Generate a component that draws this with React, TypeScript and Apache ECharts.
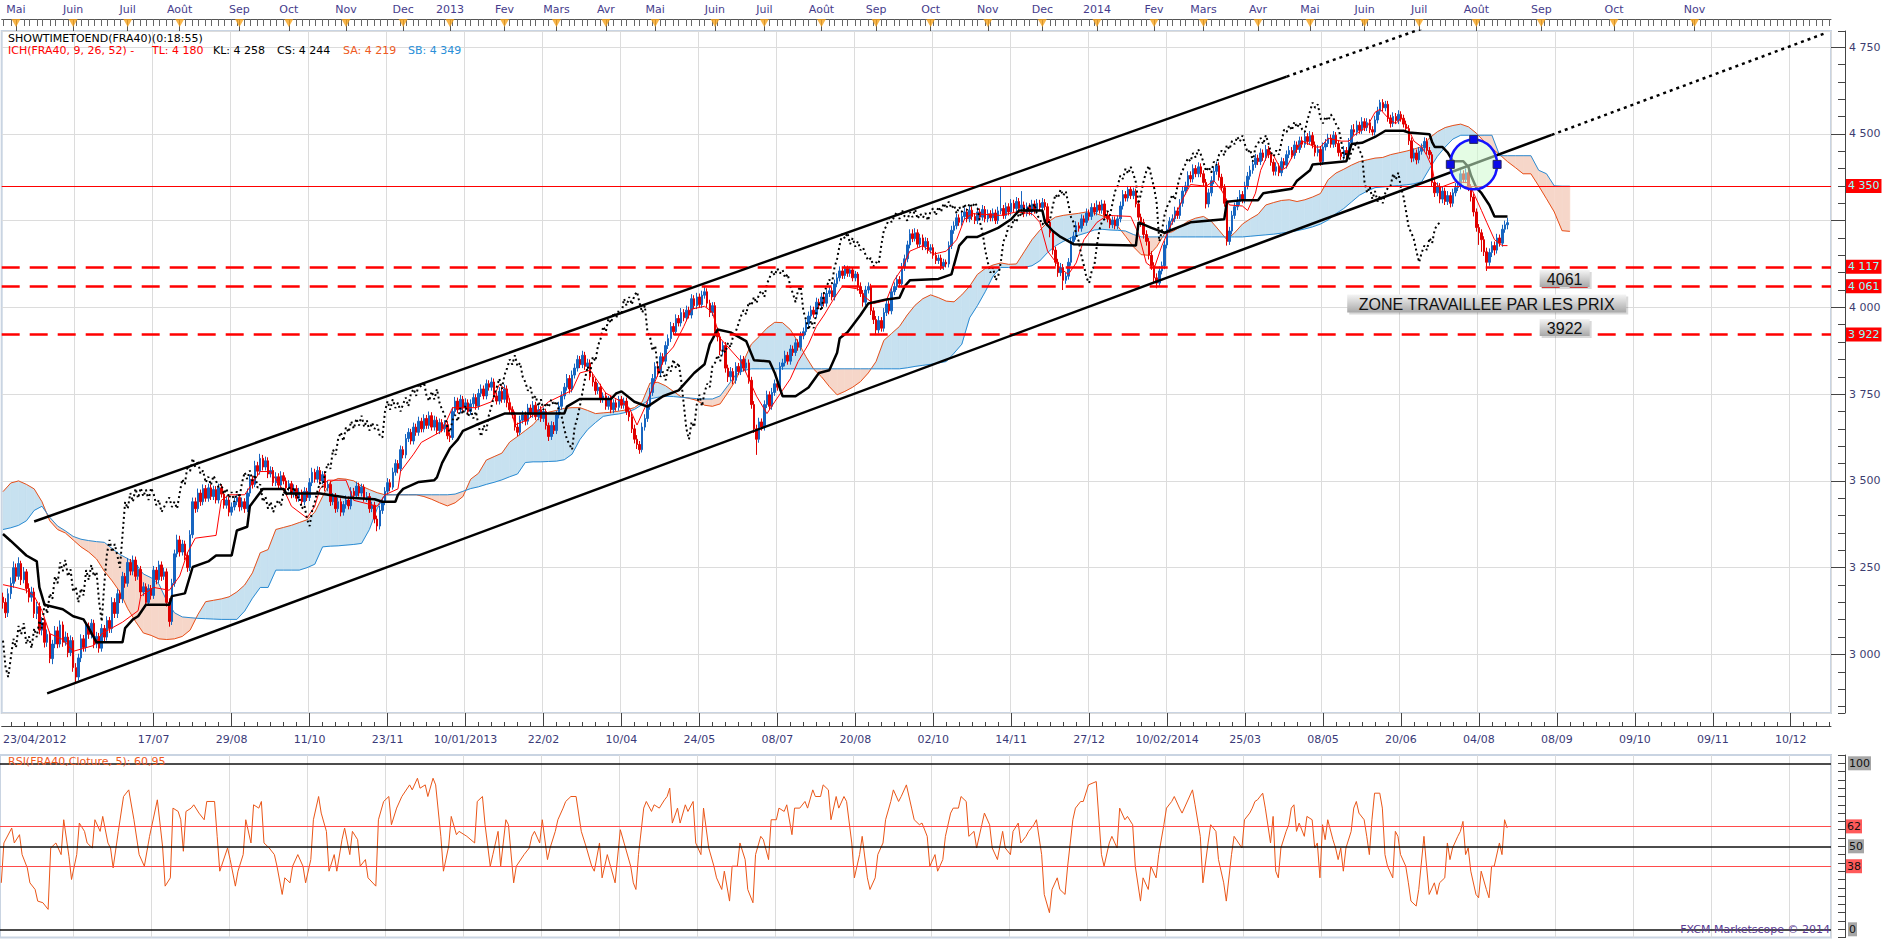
import React, { useEffect, useRef } from "react";
import * as echarts from "echarts";

// ---------------- DATA ----------------
const BAR_COUNT = 704; // trading-day slots on the time axis (history + future cloud)
const PRICE_MIN = 2831.3;
const PRICE_MAX = 4796.3;

// daily closes FRA40, one per trading day (bar 0 = 25/04/2012)
const closes = [
  3150,3120,3175,3205,3250,3225,3262,3215,3238,3190,
  3165,3180,3118,3138,3070,3092,3035,3058,2988,3030,
  3068,3030,3085,3035,3050,3005,3040,2962,2935,2990,
  3045,3020,3082,3058,3090,3030,3052,3018,3075,3050,
  3098,3075,3150,3118,3175,3160,3225,3205,3265,3240,
  3272,3225,3245,3180,3195,3150,3190,3170,3243,3215,
  3258,3225,3238,3150,3095,3205,3290,3330,3295,3318,
  3285,3250,3345,3440,3420,3465,3440,3478,3450,3480,
  3455,3475,3445,3480,3462,3430,3445,3410,3425,3440,
  3452,3425,3440,3420,3465,3505,3490,3544,3528,3565,
  3540,3558,3520,3530,3495,3512,3488,3515,3500,3480,
  3492,3462,3478,3450,3468,3440,3470,3452,3495,3525,
  3505,3530,3500,3518,3480,3490,3440,3455,3420,3440,
  3410,3432,3445,3428,3470,3458,3485,3465,3482,3450,
  3455,3420,3430,3390,3370,3415,3440,3470,3495,3482,
  3525,3550,3535,3590,3575,3622,3640,3615,3655,3640,
  3672,3650,3680,3660,3688,3655,3675,3645,3668,3650,
  3662,3630,3625,3700,3730,3705,3735,3710,3725,3700,
  3722,3740,3715,3752,3765,3745,3780,3770,3785,3745,
  3730,3758,3735,3765,3725,3705,3690,3655,3640,3675,
  3690,3672,3710,3692,3718,3685,3705,3680,3700,3660,
  3628,3660,3645,3690,3715,3745,3770,3795,3765,3805,
  3825,3850,3835,3862,3830,3840,3800,3785,3760,3770,
  3735,3745,3715,3735,3705,3725,3712,3735,3718,3730,
  3700,3685,3650,3620,3605,3590,3655,3680,3715,3755,
  3795,3830,3812,3858,3845,3890,3910,3945,3930,3968,
  3955,3985,3970,3992,3978,4025,4005,4030,4008,4035,
  4045,4012,3985,4005,3930,3915,3875,3890,3825,3800,
  3815,3790,3830,3815,3850,3825,3840,3790,3720,3650,
  3620,3670,3655,3720,3748,3715,3755,3780,3770,3830,
  3840,3862,3845,3880,3870,3898,3885,3918,3930,3952,
  3975,3992,3980,4015,4005,4030,4012,4040,4048,4030,
  4068,4085,4105,4092,4112,4098,4108,4085,4096,4060,
  4040,4015,4050,4060,3990,3965,3935,3962,3940,3985,
  4010,3990,4045,4060,4080,4068,4115,4140,4180,4212,
  4198,4215,4182,4200,4175,4190,4165,4172,4150,4135,
  4142,4118,4130,4125,4178,4222,4235,4258,4245,4262,
  4275,4255,4280,4262,4250,4275,4260,4282,4255,4270,
  4258,4272,4250,4278,4285,4265,4290,4275,4300,4285,
  4305,4285,4295,4270,4290,4275,4298,4280,4300,4288,
  4302,4290,4245,4215,4165,4130,4100,4115,4078,4090,
  4130,4190,4205,4235,4228,4255,4245,4272,4262,4288,
  4275,4295,4280,4298,4265,4255,4238,4252,4235,4255,
  4292,4325,4315,4340,4322,4335,4298,4260,4245,4210,
  4190,4150,4120,4085,4070,4105,4120,4180,4225,4248,
  4255,4278,4265,4300,4335,4350,4380,4370,4400,4385,
  4405,4385,4360,4298,4330,4365,4392,4408,4375,4345,
  4300,4190,4220,4265,4290,4305,4325,4310,4350,4378,
  4395,4412,4430,4420,4445,4432,4455,4440,4418,4392,
  4405,4388,4420,4410,4440,4452,4438,4468,4455,4480,
  4470,4492,4478,4495,4468,4446,4455,4420,4462,4472,
  4488,4470,4496,4472,4446,4435,4452,4440,4475,4512,
  4505,4525,4510,4535,4518,4532,4512,4505,4540,4565,
  4590,4575,4585,4546,4530,4550,4538,4556,4545,4528,
  4515,4480,4430,4445,4425,4450,4460,4478,4452,4440,
  4360,4330,4348,4312,4335,4305,4322,4300,4330,4345,
  4350,4385,4368,4388,4345,4318,4275,4230,4215,4195,
  4160,4130,4158,4178,4165,4200,4185,4225,4238,4244,
];
// daily highs and lows (wick ends), same bars
const highs = [
  3178,3162,3190,3222,3268,3262,3280,3270,3252,3246,
  3205,3195,3192,3152,3150,3108,3102,3072,3066,3042,
  3082,3080,3098,3095,3066,3062,3055,3050,2975,3002,
  3058,3056,3095,3092,3102,3100,3065,3062,3088,3085,
  3110,3108,3165,3162,3188,3185,3238,3235,3278,3275,
  3285,3282,3258,3255,3208,3205,3202,3200,3255,3252,
  3270,3268,3250,3248,3162,3218,3302,3345,3342,3330,
  3328,3295,3358,3452,3452,3478,3475,3490,3488,3492,
  3490,3486,3485,3492,3490,3472,3458,3455,3438,3452,
  3462,3460,3452,3450,3478,3518,3515,3558,3555,3578,
  3575,3570,3568,3542,3540,3525,3522,3528,3525,3510,
  3502,3500,3490,3488,3480,3475,3482,3480,3508,3538,
  3535,3542,3540,3528,3528,3500,3500,3465,3465,3452,
  3450,3442,3458,3455,3482,3480,3498,3495,3492,3490,
  3468,3465,3440,3440,3400,3428,3452,3482,3508,3505,
  3538,3562,3560,3602,3600,3635,3652,3650,3668,3665,
  3685,3682,3692,3690,3700,3698,3688,3685,3680,3678,
  3675,3672,3640,3712,3742,3740,3748,3745,3738,3735,
  3735,3752,3750,3765,3778,3775,3792,3790,3798,3795,
  3755,3770,3768,3778,3775,3738,3715,3700,3668,3688,
  3702,3700,3722,3720,3730,3728,3718,3715,3712,3708,
  3668,3672,3670,3702,3728,3758,3782,3808,3805,3818,
  3838,3862,3860,3875,3872,3852,3850,3812,3795,3782,
  3780,3755,3755,3745,3745,3735,3735,3745,3745,3740,
  3740,3712,3695,3662,3632,3615,3668,3692,3728,3768,
  3808,3842,3840,3870,3868,3902,3922,3958,3955,3980,
  3978,3998,3995,4005,4002,4038,4035,4042,4040,4048,
  4062,4055,4022,4015,4015,3942,3925,3902,3900,3835,
  3828,3825,3842,3840,3862,3860,3852,3850,3800,3730,
  3662,3682,3680,3732,3760,3758,3768,3792,3790,3842,
  3852,3875,3872,3892,3890,3910,3908,3930,3942,3965,
  3988,4005,4002,4028,4025,4042,4040,4052,4060,4058,
  4080,4098,4118,4115,4122,4120,4118,4115,4105,4102,
  4072,4050,4062,4072,4068,4000,3975,3975,3972,3998,
  4022,4020,4058,4072,4092,4090,4128,4152,4192,4225,
  4225,4228,4225,4212,4210,4202,4200,4182,4182,4160,
  4152,4152,4140,4138,4190,4235,4248,4270,4268,4275,
  4288,4285,4292,4290,4272,4288,4285,4295,4292,4282,
  4280,4285,4282,4290,4348,4295,4302,4300,4312,4310,
  4318,4315,4335,4305,4302,4300,4310,4308,4312,4310,
  4315,4312,4300,4255,4225,4175,4140,4128,4125,4100,
  4142,4202,4218,4248,4245,4268,4265,4285,4282,4300,
  4300,4308,4305,4310,4308,4275,4265,4262,4262,4265,
  4305,4338,4335,4350,4348,4345,4342,4308,4270,4255,
  4222,4200,4162,4130,4098,4118,4132,4192,4238,4260,
  4268,4290,4288,4312,4348,4362,4392,4392,4412,4410,
  4418,4415,4395,4370,4342,4378,4405,4420,4418,4385,
  4355,4310,4232,4278,4302,4318,4338,4335,4362,4390,
  4408,4425,4442,4440,4458,4455,4468,4465,4450,4428,
  4418,4415,4432,4430,4452,4465,4462,4480,4478,4492,
  4492,4505,4502,4508,4505,4478,4468,4465,4475,4485,
  4500,4498,4508,4505,4482,4455,4465,4462,4488,4525,
  4528,4538,4535,4548,4545,4545,4542,4522,4552,4578,
  4598,4600,4595,4595,4555,4562,4560,4568,4565,4555,
  4538,4525,4490,4458,4455,4462,4472,4490,4488,4462,
  4448,4372,4360,4358,4348,4345,4335,4332,4342,4358,
  4362,4398,4395,4400,4398,4355,4328,4285,4240,4225,
  4205,4172,4170,4190,4190,4212,4210,4238,4250,4258,
];
const lows = [
  3132,3105,3108,3160,3192,3210,3215,3200,3205,3176,
  3150,3152,3105,3102,3058,3055,3020,3022,2975,2972,
  3018,3018,3020,3022,3025,2992,2995,2950,2918,2925,
  2978,3008,3008,3045,3046,3018,3018,3005,3008,3038,
  3040,3062,3062,3105,3105,3148,3148,3192,3195,3228,
  3228,3212,3215,3168,3168,3138,3140,3158,3160,3202,
  3205,3212,3215,3138,3080,3085,3195,3280,3282,3285,
  3272,3238,3240,3335,3408,3410,3428,3430,3440,3440,
  3445,3445,3435,3435,3452,3420,3420,3398,3400,3415,
  3430,3412,3415,3408,3410,3455,3478,3482,3515,3518,
  3530,3530,3508,3510,3485,3485,3478,3478,3490,3468,
  3470,3450,3452,3440,3440,3430,3430,3442,3442,3485,
  3495,3495,3490,3490,3470,3470,3428,3430,3408,3410,
  3398,3400,3420,3418,3418,3448,3448,3455,3455,3440,
  3440,3408,3410,3378,3355,3360,3405,3430,3460,3470,
  3475,3515,3522,3525,3565,3565,3612,3605,3605,3630,
  3630,3640,3640,3650,3650,3645,3645,3635,3635,3640,
  3640,3620,3612,3618,3690,3695,3695,3700,3700,3690,
  3690,3712,3705,3705,3742,3735,3735,3760,3760,3735,
  3720,3720,3725,3725,3712,3695,3680,3645,3628,3632,
  3665,3660,3662,3682,3682,3675,3675,3670,3670,3648,
  3615,3618,3635,3635,3680,3705,3735,3760,3752,3755,
  3795,3815,3825,3825,3820,3820,3790,3772,3748,3750,
  3725,3725,3705,3705,3695,3695,3702,3702,3708,3708,
  3690,3672,3638,3608,3592,3578,3582,3645,3670,3705,
  3745,3785,3800,3802,3835,3835,3880,3900,3920,3920,
  3945,3945,3960,3960,3968,3968,3995,3995,3998,3998,
  4025,4000,3972,3975,3918,3902,3862,3862,3812,3785,
  3788,3778,3780,3805,3805,3815,3815,3780,3708,3638,
  3575,3610,3645,3645,3710,3705,3705,3745,3760,3760,
  3820,3830,3835,3835,3860,3860,3875,3875,3908,3920,
  3940,3965,3970,3970,3995,3995,4002,4002,4030,4020,
  4020,4058,4075,4082,4082,4088,4088,4075,4075,4048,
  4030,4002,4005,4040,3978,3952,3920,3925,3930,3930,
  3975,3980,3980,4035,4050,4058,4058,4105,4130,4170,
  4188,4190,4172,4172,4165,4165,4155,4155,4140,4125,
  4125,4108,4108,4115,4115,4168,4212,4225,4235,4235,
  4252,4245,4245,4252,4240,4240,4250,4250,4245,4245,
  4248,4248,4240,4240,4268,4255,4255,4265,4265,4275,
  4275,4275,4275,4260,4262,4265,4265,4270,4270,4278,
  4278,4280,4235,4202,4152,4118,4088,4090,4050,4068,
  4080,4120,4180,4195,4218,4218,4235,4235,4250,4252,
  4265,4265,4270,4270,4255,4245,4228,4228,4225,4225,
  4245,4282,4305,4305,4312,4312,4288,4250,4232,4198,
  4178,4138,4108,4072,4055,4060,4095,4110,4170,4215,
  4238,4245,4255,4255,4290,4325,4340,4360,4360,4375,
  4375,4375,4350,4285,4288,4320,4355,4382,4365,4335,
  4290,4178,4180,4210,4255,4280,4295,4300,4300,4340,
  4368,4385,4402,4410,4410,4422,4422,4430,4408,4380,
  4380,4378,4378,4400,4400,4430,4428,4428,4445,4445,
  4460,4460,4468,4468,4458,4435,4435,4408,4410,4452,
  4462,4460,4460,4462,4435,4425,4425,4430,4430,4465,
  4495,4495,4500,4500,4508,4508,4502,4495,4495,4530,
  4555,4565,4565,4535,4518,4520,4528,4528,4535,4518,
  4505,4468,4418,4420,4412,4415,4440,4450,4440,4428,
  4348,4318,4320,4300,4300,4295,4295,4288,4290,4320,
  4335,4340,4358,4358,4335,4305,4262,4218,4180,4160,
  4148,4105,4120,4145,4150,4155,4175,4175,4215,4225,
];
const FIRST_OPEN = 3165;
const CHIKOU_SHIFT = 26;

// Tenkan (red) [bar, value]
const tenkanPoints = [
  [0,3201],[5,3193],[9,3185],[12,3168],[15,3126],[18,3060],[23,3043],[27,3009],[35,3026],[38,3060],
  [46,3093],[52,3126],[53,3168],[58,3193],[64,3185],[68,3226],[71,3293],[74,3335],[82,3343],[84,3444],
  [87,3460],[93,3460],[99,3527],[103,3527],[109,3460],[111,3427],[117,3393],[120,3427],[122,3477],[125,3502],
  [132,3502],[135,3444],[144,3427],[147,3460],[152,3477],[153,3527],[158,3577],[161,3611],[169,3644],[173,3711],
  [182,3711],[188,3728],[191,3778],[194,3761],[197,3661],[202,3677],[210,3728],[219,3761],[222,3811],[226,3819],
  [232,3753],[238,3728],[241,3711],[244,3661],[247,3711],[250,3769],[255,3861],[258,3886],[262,3945],[265,3995],
  [270,4003],[273,3986],[276,3911],[279,3886],[284,3844],[287,3794],[290,3744],[294,3694],[297,3728],[300,3761],
  [303,3794],[306,3844],[310,3894],[313,3945],[316,3978],[320,4028],[323,4061],[329,4053],[332,4028],[335,4011],
  [340,4020],[343,4078],[346,4112],[349,4162],[354,4178],[358,4153],[363,4162],[367,4195],[370,4254],[373,4270],
  [384,4265],[390,4275],[396,4270],[399,4245],[402,4162],[407,4112],[410,4095],[413,4128],[416,4195],[421,4245],
  [425,4265],[434,4262],[437,4212],[440,4128],[443,4112],[446,4178],[451,4262],[454,4312],[457,4354],[463,4349],
  [466,4365],[469,4337],[472,4295],[477,4292],[479,4279],[482,4329],[484,4395],[487,4446],[489,4437],[492,4395],
  [494,4404],[497,4446],[500,4479],[505,4462],[507,4462],[510,4487],[515,4479],[518,4479],[520,4496],[525,4521],
  [528,4562],[530,4571],[533,4546],[536,4529],[538,4546],[541,4512],[543,4479],[546,4462],[548,4437],[550,4404],
  [551,4362],[553,4345],[559,4362],[564,4359],[566,4329],[569,4279],[571,4245],[574,4195],[577,4178],[579,4178],
];

// Kijun (black, thick) [bar, value]
const kijunPoints = [
  [0,3347],[3,3327],[9,3285],[13,3268],[14,3193],[16,3143],[23,3130],[27,3110],[31,3101],[33,3076],
  [36,3035],[46,3035],[47,3076],[50,3101],[52,3110],[55,3143],[64,3143],[65,3168],[70,3176],[73,3252],
  [79,3268],[82,3285],[88,3285],[90,3357],[94,3368],[95,3427],[100,3477],[108,3477],[109,3464],[122,3464],
  [132,3452],[143,3447],[146,3440],[151,3440],[152,3460],[154,3477],[160,3497],[166,3502],[167,3510],[169,3552],
  [172,3594],[175,3619],[177,3644],[182,3661],[193,3694],[216,3694],[217,3714],[222,3736],[234,3736],[236,3752],
  [238,3758],[243,3728],[248,3714],[254,3744],[260,3761],[266,3811],[270,3836],[272,3894],[275,3936],[280,3928],
  [286,3903],[289,3848],[295,3844],[297,3811],[300,3744],[305,3744],[310,3769],[314,3811],[318,3819],[321,3869],
  [322,3911],[325,3928],[330,3978],[333,4011],[340,4023],[345,4028],[347,4061],[349,4078],[360,4082],[365,4095],
  [368,4178],[371,4203],[375,4203],[383,4229],[388,4254],[391,4279],[400,4279],[401,4245],[404,4220],[407,4203],
  [412,4182],[436,4178],[437,4245],[442,4229],[447,4215],[457,4245],[470,4254],[471,4304],[477,4309],[483,4309],
  [485,4329],[496,4342],[498,4365],[503,4395],[504,4412],[517,4421],[518,4446],[519,4471],[523,4474],[528,4491],
  [532,4509],[539,4509],[541,4504],[549,4499],[550,4476],[551,4462],[554,4462],[556,4446],[558,4421],[562,4421],
  [564,4404],[565,4379],[567,4345],[569,4329],[572,4295],[574,4262],[579,4262],
];

// Senkou span A / B, one value every SENKOU_STEP bars from bar 0
const SENKOU_STEP = 3;
const senkouA = [
  3469,3494,3500,3490,3477,3440,3385,3360,3350,3330,
  3310,3295,3275,3240,3212,3180,3132,3095,3062,3055,
  3045,3043,3045,3052,3070,3115,3152,3156,3160,3166,
  3180,3200,3235,3293,3302,3360,3366,3372,3380,3388,
  3410,3455,3497,3507,3505,3500,3485,3475,3466,3460,
  3460,3460,3460,3460,3455,3447,3437,3428,3437,3455,
  3505,3522,3560,3570,3580,3612,3628,3645,3662,3688,
  3698,3703,3709,3711,3711,3703,3694,3696,3698,3701,
  3705,3711,3728,3782,3784,3774,3758,3742,3738,3732,
  3718,3715,3722,3755,3790,3845,3894,3916,3940,3957,
  3956,3936,3900,3858,3822,3800,3772,3748,3758,3770,
  3786,3811,3844,3905,3925,3945,3978,4006,4025,4036,
  4028,4018,4016,4036,4061,4095,4112,4122,4128,4124,
  4125,4160,4195,4222,4245,4260,4265,4268,4271,4275,
  4272,4264,4252,4234,4205,4175,4152,4150,4175,4212,
  4218,4232,4248,4257,4262,4248,4222,4195,4215,4240,
  4255,4268,4295,4302,4308,4310,4305,4310,4318,4328,
  4368,4387,4398,4410,4420,4425,4430,4432,4440,4445,
  4450,4456,4463,4488,4506,4518,4524,4528,4520,4502,
  4478,4458,4440,4420,4403,4385,4385,4350,4313,4275,
  4221,4219,
];
const senkouB = [
  3360,3365,3372,3385,3415,3427,3395,3370,3356,3340,
  3332,3328,3325,3323,3305,3288,3276,3262,3232,3221,
  3203,3155,3120,3108,3106,3104,3103,3102,3101,3101,
  3101,3125,3162,3193,3193,3243,3243,3243,3243,3250,
  3260,3310,3312,3313,3315,3317,3320,3360,3420,3460,
  3460,3460,3460,3460,3460,3460,3460,3460,3462,3470,
  3478,3483,3490,3496,3503,3512,3520,3553,3555,3555,
  3556,3557,3561,3577,3619,3648,3668,3686,3690,3693,
  3698,3706,3720,3736,3741,3744,3743,3741,3739,3737,
  3736,3736,3745,3775,3806,3818,3823,3823,3823,3823,
  3823,3823,3823,3823,3823,3823,3823,3823,3823,3823,
  3823,3823,3823,3823,3823,3823,3826,3830,3833,3836,
  3840,3844,3868,3894,3970,4005,4045,4090,4115,4115,
  4115,4115,4120,4134,4158,4177,4190,4200,4208,4215,
  4223,4225,4223,4222,4220,4210,4203,4203,4203,4203,
  4203,4203,4203,4203,4203,4203,4203,4203,4203,4203,
  4205,4207,4209,4211,4214,4217,4221,4226,4232,4240,
  4252,4270,4285,4304,4323,4335,4345,4347,4349,4351,
  4353,4356,4362,4400,4435,4462,4485,4496,4496,4496,
  4496,4496,4437,4437,4437,4437,4437,4395,4385,4350,
  4349,4349,
];

// RSI(5) [bar, value]
const rsiPoints = [
  [0,28],[1,52],[4,61],[5,52],[7,57],[8,45],[10,37],[11,28],[13,24],[14,17],[16,16],[18,12],[19,49],[21,52],
  [23,45],[24,66],[26,44],[27,30],[29,45],[30,64],[32,59],[33,52],[35,49],[36,66],[38,59],[39,68],[41,52],
  [42,49],[43,37],[45,59],[47,80],[49,84],[51,66],[53,45],[55,38],[57,56],[60,78],[62,50],[63,26],[65,31],
  [66,73],[68,71],[69,66],[70,47],[71,71],[73,73],[74,75],[76,70],[78,66],[79,77],[82,77],[83,56],[84,35],
  [87,49],[88,42],[90,26],[91,35],[93,45],[94,66],[96,52],[97,75],[99,73],[100,77],[101,52],[103,49],[105,45],
  [106,38],[108,21],[109,31],[111,28],[112,38],[114,45],[116,38],[117,28],[119,42],[120,66],[122,80],[123,70],
  [125,59],[126,35],[128,45],[129,35],[131,54],[132,61],[134,45],[135,59],[137,54],[138,38],[140,42],[141,31],
  [144,26],[145,66],[147,77],[149,80],[150,63],[152,73],[154,80],[157,87],[158,84],[160,91],[161,85],[163,87],
  [164,80],[166,91],[167,87],[169,56],[170,35],[172,50],[173,68],[175,57],[176,59],[179,56],[182,52],[183,77],
  [185,80],[186,63],[188,38],[189,45],[191,59],[192,38],[194,66],[195,63],[197,28],[198,38],[201,45],[203,49],
  [204,56],[205,59],[207,52],[208,66],[210,42],[211,49],[213,59],[214,66],[216,73],[217,77],[219,80],[221,80],
  [223,59],[225,49],[227,38],[228,35],[230,52],[231,31],[233,45],[236,28],[238,60],[240,49],[242,38],[243,28],
  [244,24],[245,45],[247,73],[248,77],[250,71],[251,75],[253,73],[255,78],[256,80],[257,85],[258,64],[260,73],
  [261,64],[263,75],[264,71],[266,77],[267,52],[269,45],[270,73],[272,49],[274,38],[275,31],[277,24],[278,35],
  [280,17],[281,38],[283,38],[284,52],[286,42],[287,24],[289,16],[290,45],[292,56],[293,54],[295,42],[296,66],
  [298,66],[299,73],[301,71],[302,75],[304,57],[305,73],[307,73],[309,77],[310,73],[312,84],[313,80],[315,80],
  [316,87],[318,84],[319,66],[321,80],[322,73],[324,80],[325,77],[327,52],[328,31],[330,45],[331,56],[333,31],
  [334,24],[336,31],[337,45],[339,52],[340,66],[342,77],[343,84],[345,77],[346,80],[348,87],[350,73],[351,66],
  [353,63],[354,64],[356,56],[357,38],[359,45],[360,35],[362,42],[363,56],[365,70],[366,73],[368,73],[369,80],
  [371,77],[372,56],[374,59],[375,49],[377,63],[378,70],[380,63],[381,49],[383,42],[385,59],[386,49],[388,45],
  [389,59],[391,64],[392,52],[394,56],[395,59],[397,63],[398,66],[400,45],[401,21],[403,10],[404,24],[406,31],
  [407,24],[409,21],[410,38],[412,66],[413,73],[415,77],[416,77],[418,87],[421,89],[423,45],[424,38],[426,52],
  [427,56],[429,49],[430,73],[432,66],[433,68],[435,63],[436,38],[438,17],[439,31],[441,24],[442,38],[444,31],
  [445,45],[447,63],[448,73],[450,77],[451,80],[453,73],[454,70],[458,84],[459,75],[461,56],[462,28],[464,52],
  [465,63],[467,59],[468,42],[470,28],[471,17],[473,45],[474,56],[477,49],[478,66],[480,70],[481,73],[482,77],
  [483,78],[485,82],[486,73],[488,52],[489,68],[490,35],[491,31],[492,49],[494,59],[495,63],[496,73],[497,75],
  [498,59],[499,64],[501,56],[502,68],[504,66],[505,49],[506,52],[507,31],[508,63],[509,54],[510,66],[512,54],
  [513,49],[514,42],[515,49],[516,35],[517,49],[519,59],[520,73],[521,77],[522,70],[524,66],[525,56],[526,45],
  [527,66],[528,82],[530,82],[531,73],[532,45],[533,38],[535,31],[536,59],[537,56],[538,45],[540,38],[541,28],
  [542,17],[544,14],[545,24],[547,56],[548,38],[549,21],[551,28],[552,21],[553,28],[555,31],[556,52],[557,42],
  [558,49],[560,56],[561,59],[562,65],[563,45],[564,49],[565,35],[567,21],[568,19],[569,35],[571,24],[572,19],
  [573,38],[574,38],[576,52],[577,45],[578,66],[579,61],
];

// trend channel [bar, price]
const upperChannel = [[12, 3383], [494, 4665]];
const upperChannelExt = [[494, 4665], [549, 4811]];
const lowerChannel = [[17, 2888], [596, 4497]];
const lowerChannelExt = [[596, 4497], [702, 4792]];

// horizontal levels
const resistanceLevel = 4350;
const zoneLevels = [4117, 4061, 3922];
const lastClose = 4244;
const rsiBands = [62, 38];
const rsiRefs = [100, 50, 0];

// text boxes: [bar, price] and texts
const notePoints = [[601, 4083], [571, 4011], [601, 3942]];
const noteTexts = ["4061", "ZONE TRAVAILLEE PAR LES PRIX", "3922"];

// circled area: [left bar, right bar, top price, bottom price]
const circleBox = [557, 575, 4484, 4340];

// time axis labels
const DATE_TICK_START = 28;
const DATE_TICK_STEP = 30;
const firstDateLabel = "23/04/2012";
const dateLabels = ["", "17/07", "29/08", "11/10", "23/11", "10/01/2013", "22/02", "10/04", "24/05",
  "08/07", "20/08", "02/10", "14/11", "27/12", "10/02/2014", "25/03", "08/05", "20/06", "04/08",
  "08/09", "09/10", "09/11", "10/12"];
const monthBars = [5, 27, 48, 68, 91, 110, 132, 154, 172, 193, 213, 232, 251, 274, 293, 315, 336, 357,
  379, 400, 421, 443, 462, 483, 503, 524, 545, 567, 592, 620, 651];
const monthNames = ["Mai", "Juin", "Juil", "Août", "Sep", "Oct", "Nov", "Dec", "2013", "Fev", "Mars",
  "Avr", "Mai", "Juin", "Juil", "Août", "Sep", "Oct", "Nov", "Dec", "2014", "Fev", "Mars", "Avr", "Mai",
  "Juin", "Juil", "Août", "Sep", "Oct", "Nov"];

// ---------------- STYLE ----------------
const FONT = '"DejaVu Sans", Verdana, sans-serif';
const AXIS_TEXT = "#3a3a78";
const GRID_LINE = "#dcdcdc";
const CLOUD_BLUE = "#c7e1f0";
const CLOUD_PINK = "#f6d6c9";

const fmtPrice = (v: number) => {
  const s = String(Math.round(v));
  return s.length > 3 ? s.slice(0, s.length - 3) + " " + s.slice(-3) : s;
};

function buildOption() {
  const cats = Array.from({ length: BAR_COUNT }, (_, i) => String(i));
  const isDateTick = (i: number) => i >= DATE_TICK_START && (i - DATE_TICK_START) % DATE_TICK_STEP === 0;
  const monthMap = new Map<number, string>();
  monthBars.forEach((b, k) => monthMap.set(b, monthNames[k]));

  const candleData = closes.map((c, i) => {
    const o = i === 0 ? FIRST_OPEN : closes[i - 1];
    return [o, c, Math.min(lows[i], o, c), Math.max(highs[i], o, c)];
  });
  const chikou = closes.slice(CHIKOU_SHIFT).map((c, i) => [i, c]);
  const cloudData = senkouA.map((a, i) => [i * SENKOU_STEP, a, senkouB[i]]);

  const redBox = {
    show: true, position: "end", distance: 15, backgroundColor: "#ff0000", color: "#8fffff",
    fontFamily: FONT, fontSize: 11, padding: [2, 2, 1, 2],
  };

  const line = (data: number[][], color: string, width: number, type: any = "solid", z = 4) => ({
    type: "line", data, xAxisIndex: 0, yAxisIndex: 0, symbol: "none", silent: true, z,
    lineStyle: { color, width, type, cap: "butt" },
  });

  return {
    animation: false,
    backgroundColor: "#ffffff",
    grid: [
      { left: 0, top: 31, width: 1831, height: 682, show: true, borderColor: "#c9d4e2", borderWidth: 2, backgroundColor: "transparent" },
      { left: 0, top: 755, width: 1831, height: 182.6, show: true, borderColor: "#c9d4e2", borderWidth: 2, backgroundColor: "transparent" },
    ],
    xAxis: [
      {
        type: "category", data: cats, gridIndex: 0, position: "bottom", offset: 13,
        axisLine: { show: true, lineStyle: { color: "#444", width: 1 } },
        axisTick: { show: true, inside: true, length: 13, alignWithLabel: true, interval: (i: number) => isDateTick(i), lineStyle: { color: "#444" } },
        axisLabel: {
          show: true, interval: (i: number) => i === 0 || (isDateTick(i) && i !== DATE_TICK_START),
          formatter: (v: string) => {
            const i = Number(v);
            if (i === 0) return firstDateLabel;
            return isDateTick(i) ? dateLabels[(i - DATE_TICK_START) / DATE_TICK_STEP] : "";
          },
          color: AXIS_TEXT, fontFamily: FONT, fontSize: 11, margin: 8, alignMinLabel: "left",
        },
        splitLine: { show: true, interval: (i: number) => isDateTick(i), lineStyle: { color: GRID_LINE, width: 1 } },
      },
      {
        type: "category", data: cats, gridIndex: 0, position: "bottom", offset: 13,
        axisLine: { show: false },
        axisTick: { show: true, inside: true, length: 4, alignWithLabel: true, interval: (i: number) => i >= 3 && (i - 3) % 5 === 0, lineStyle: { color: "#444" } },
        axisLabel: { show: false }, splitLine: { show: false },
      },
      {
        type: "category", data: cats, gridIndex: 0, position: "top", offset: 12,
        axisLine: { show: true, lineStyle: { color: "#555", width: 1 } },
        axisTick: { show: true, inside: true, length: 7, alignWithLabel: true, interval: (i: number) => i % 5 === 0 || i % 5 === 3, lineStyle: { color: "#666" } },
        axisLabel: {
          show: true, interval: (i: number) => monthMap.has(i),
          formatter: (v: string) => monthMap.get(Number(v)) || "",
          color: "#463c8c", fontFamily: FONT, fontSize: 11, margin: 4,
        },
        splitLine: { show: false },
      },
      {
        type: "category", data: cats, gridIndex: 0, position: "top", offset: 12,
        axisLine: { show: false },
        axisTick: { show: true, inside: true, length: 12, alignWithLabel: true, interval: (i: number) => monthMap.has(i), lineStyle: { color: "#555" } },
        axisLabel: { show: false }, splitLine: { show: false },
      },
      {
        type: "category", data: cats, gridIndex: 1, position: "bottom",
        axisLine: { show: false }, axisTick: { show: false }, axisLabel: { show: false },
        splitLine: { show: true, interval: (i: number) => isDateTick(i), lineStyle: { color: GRID_LINE, width: 1 } },
      },
    ],
    yAxis: [
      {
        type: "value", gridIndex: 0, position: "right", offset: 14, min: PRICE_MIN, max: PRICE_MAX,
        minInterval: 250, maxInterval: 250, splitNumber: 8,
        axisLine: { show: true, lineStyle: { color: "#444" } },
        axisTick: { show: true, inside: true, length: 14, lineStyle: { color: "#444" } },
        axisLabel: {
          show: true, showMinLabel: false, showMaxLabel: false,
          formatter: (v: number) => (Math.round(v) === 4250 ? "" : fmtPrice(v)),
          color: "#3d3d70", fontFamily: FONT, fontSize: 11, margin: 4,
        },
        splitLine: { show: true, lineStyle: { color: GRID_LINE, width: 1 } },
      },
      {
        type: "value", gridIndex: 0, position: "right", offset: 14, min: PRICE_MIN, max: PRICE_MAX,
        minInterval: 50, maxInterval: 50, splitNumber: 40,
        axisLine: { show: false },
        axisTick: { show: true, inside: true, length: 7, lineStyle: { color: "#444" } },
        axisLabel: { show: false }, splitLine: { show: false },
      },
      {
        type: "value", gridIndex: 1, position: "right", offset: 14, min: -5, max: 105, interval: 5,
        axisLine: { show: true, lineStyle: { color: "#444" } },
        axisTick: { show: true, inside: true, length: 7, lineStyle: { color: "#444" } },
        axisLabel: {
          show: true,
          formatter: (v: number) => (v === 0 || v === 50 || v === 100 ? `{g|${v}}` : ""),
          rich: { g: { backgroundColor: "#a6a6a6", color: "#111", fontFamily: FONT, fontSize: 11, padding: [2, 1, 1, 1] } },
          margin: 3,
        },
        splitLine: { show: false },
      },
    ],
    series: [
      {
        type: "custom", name: "cloud", xAxisIndex: 0, yAxisIndex: 0, data: cloudData, silent: true, z: 1,
        encode: { x: 0, y: [1, 2] },
        renderItem: (params: any, api: any) => {
          const i = params.dataIndex;
          if (i >= senkouA.length - 1) return null;
          const x0 = i * SENKOU_STEP, x1 = (i + 1) * SENKOU_STEP;
          const a0 = api.coord([x0, senkouA[i]]), a1 = api.coord([x1, senkouA[i + 1]]);
          const b0 = api.coord([x0, senkouB[i]]), b1 = api.coord([x1, senkouB[i + 1]]);
          const d0 = senkouA[i] - senkouB[i], d1 = senkouA[i + 1] - senkouB[i + 1];
          const col = (d: number) => (d >= 0 ? CLOUD_BLUE : CLOUD_PINK);
          const poly = (pts: number[][], c: string) => ({ type: "polygon", shape: { points: pts }, style: { fill: c, stroke: c, lineWidth: 0.6 } });
          if (d0 * d1 >= 0) return poly([a0, a1, b1, b0], col(d0 + d1));
          const t = d0 / (d0 - d1);
          const c = [a0[0] + (a1[0] - a0[0]) * t, a0[1] + (a1[1] - a0[1]) * t];
          return { type: "group", children: [poly([a0, c, b0], col(d0)), poly([c, a1, b1], col(d1))] };
        },
      },
      line(senkouA.map((v, i) => [i * SENKOU_STEP, v]), "#e8501a", 1, "solid", 2),
      line(senkouB.map((v, i) => [i * SENKOU_STEP, v]), "#2a8bd3", 1, "solid", 2),
      {
        type: "candlestick", name: "FRA40", xAxisIndex: 0, yAxisIndex: 0, data: candleData, barWidth: 2, z: 3, silent: true,
        itemStyle: { color: "#1765c0", color0: "#e00000", borderColor: "#1765c0", borderColor0: "#e00000", borderWidth: 1 },
        markLine: {
          silent: true, symbol: ["none", "none"], animation: false,
          data: [
            { yAxis: resistanceLevel, lineStyle: { color: "#ff0000", width: 1, type: "solid" }, label: { ...redBox, formatter: fmtPrice(resistanceLevel) } },
            ...zoneLevels.map((v) => ({ yAxis: v, lineStyle: { color: "#ff0000", width: 2.5, type: [18, 10] }, label: { ...redBox, formatter: fmtPrice(v) } })),
            { yAxis: lastClose, lineStyle: { opacity: 0, width: 0 }, label: { ...redBox, backgroundColor: "#72c5ee", color: "#1b2f4a", formatter: fmtPrice(lastClose) } },
          ],
        },
      },
      line(tenkanPoints, "#ff0000", 1, "solid", 4),
      line(kijunPoints, "#000000", 2.5, "solid", 4),
      line(chikou, "#000000", 2, [2, 3], 4),
      line(upperChannel, "#000000", 2.5, "solid", 5),
      line(upperChannelExt, "#000000", 2.5, [3, 4], 5),
      line(lowerChannel, "#000000", 2.5, "solid", 5),
      line(lowerChannelExt, "#000000", 2.5, [3, 4], 5),
      {
        type: "scatter", xAxisIndex: 0, yAxisIndex: 0, silent: true, clip: false, z: 6,
        data: monthBars.map((b) => [b, PRICE_MAX]),
        symbol: "triangle", symbolRotate: 180, symbolSize: [9, 8], symbolOffset: [0, -8],
        itemStyle: { color: "#f6a21c" },
      },
      {
        type: "custom", name: "circle", xAxisIndex: 0, yAxisIndex: 0, silent: true, z: 7,
        data: [[(circleBox[0] + circleBox[1]) / 2, (circleBox[2] + circleBox[3]) / 2]],
        renderItem: (_p: any, api: any) => {
          const p1 = api.coord([circleBox[0], circleBox[2]]);
          const p2 = api.coord([circleBox[1], circleBox[3]]);
          const cx = (p1[0] + p2[0]) / 2, cy = (p1[1] + p2[1]) / 2;
          const rx = (p2[0] - p1[0]) / 2, ry = (p2[1] - p1[1]) / 2;
          const s = 4;
          const sq = (x: number, y: number) => ({ type: "rect", shape: { x: x - s, y: y - s, width: 2 * s, height: 2 * s }, style: { fill: "#0b0be8", stroke: "#262660", lineWidth: 1 } });
          return {
            type: "group",
            children: [
              { type: "ellipse", shape: { cx, cy, rx, ry }, style: { fill: "rgba(205,250,205,0.55)", stroke: "#1414ff", lineWidth: 2.5 } },
              sq(p1[0], cy), sq(cx, p1[1]), sq(p2[0], cy),
            ],
          };
        },
      },
      {
        type: "custom", name: "notes", xAxisIndex: 0, yAxisIndex: 0, silent: true, z: 8, clip: false,
        data: notePoints,
        renderItem: (params: any, api: any) => {
          const [x, y] = api.coord([api.value(0), api.value(1)]);
          const text = noteTexts[params.dataIndex];
          const long = text.length > 6;
          const w = long ? 279 : 50, h = long ? 18 : 17;
          return {
            type: "group",
            children: [
              { type: "rect", shape: { x: x - w / 2 + 2, y: y - h / 2 + 2, width: w, height: h }, style: { fill: "rgba(0,0,0,0.15)" } },
              {
                type: "rect", shape: { x: x - w / 2, y: y - h / 2, width: w, height: h },
                style: { fill: new echarts.graphic.LinearGradient(0, 0, 0, 1, [{ offset: 0, color: "#f4f4f4" }, { offset: 1, color: "#a8a8a8" }]) },
              },
              { type: "text", style: { text, x, y: y + 1, align: "center", verticalAlign: "middle", font: '16px "Liberation Sans", Arial, sans-serif', fill: "#111" } },
            ],
          };
        },
      },
      {
        type: "line", name: "RSI", xAxisIndex: 4, yAxisIndex: 2, data: rsiPoints, symbol: "none", silent: true, z: 3,
        lineStyle: { color: "#ea5618", width: 1 },
        markLine: {
          silent: true, symbol: ["none", "none"], animation: false,
          data: [
            ...rsiRefs.map((v) => ({ yAxis: v, lineStyle: { color: "#111", width: 1.5, type: "solid" }, label: { show: false } })),
            ...rsiBands.map((v) => ({
              yAxis: v, lineStyle: { color: "#ff4b4b", width: 1, type: "solid" },
              label: { show: true, position: "end", distance: 15, formatter: String(v), backgroundColor: "#ff5a5a", color: "#111", fontFamily: FONT, fontSize: 11, padding: [2, 1, 1, 1] },
            })),
          ],
        },
      },
    ],
    graphic: [
      { type: "text", left: 8, top: 33, z: 20, style: { text: "SHOWTIMETOEND(FRA40)(0:18:55)", font: `11px ${FONT}`, fill: "#000" } },
      { type: "text", left: 8, top: 45, z: 20, style: { text: "ICH(FRA40, 9, 26, 52) -", font: `11px ${FONT}`, fill: "#ff0000" } },
      { type: "text", left: 152, top: 45, z: 20, style: { text: "TL: 4 180", font: `11px ${FONT}`, fill: "#ff0000" } },
      { type: "text", left: 213, top: 45, z: 20, style: { text: "KL: 4 258", font: `11px ${FONT}`, fill: "#000" } },
      { type: "text", left: 277, top: 45, z: 20, style: { text: "CS: 4 244", font: `11px ${FONT}`, fill: "#000" } },
      { type: "text", left: 343, top: 45, z: 20, style: { text: "SA: 4 219", font: `11px ${FONT}`, fill: "#ee5a22" } },
      { type: "text", left: 408, top: 45, z: 20, style: { text: "SB: 4 349", font: `11px ${FONT}`, fill: "#2a8fd8" } },
      { type: "text", left: 8, top: 756, z: 20, style: { text: "RSI(FRA40,Cloture, 5): 60,95", font: `11px ${FONT}`, fill: "#f05a1e" } },
      { type: "text", right: 73, top: 924, z: 20, style: { text: "FXCM Marketscope © 2014", font: `11px ${FONT}`, fill: "#5a3b92" } },
    ],
  };
}

export default function App() {
  const ref = useRef<HTMLDivElement>(null);
  useEffect(() => {
    if (!ref.current) return;
    const chart = echarts.init(ref.current, null, { renderer: "svg" });
    chart.setOption(buildOption() as any);
    return () => chart.dispose();
  }, []);
  return (
    <div
      ref={ref}
      style={{ position: "fixed", left: 0, top: 0, width: 1903, height: 940, background: "#ffffff" }}
    />
  );
}
